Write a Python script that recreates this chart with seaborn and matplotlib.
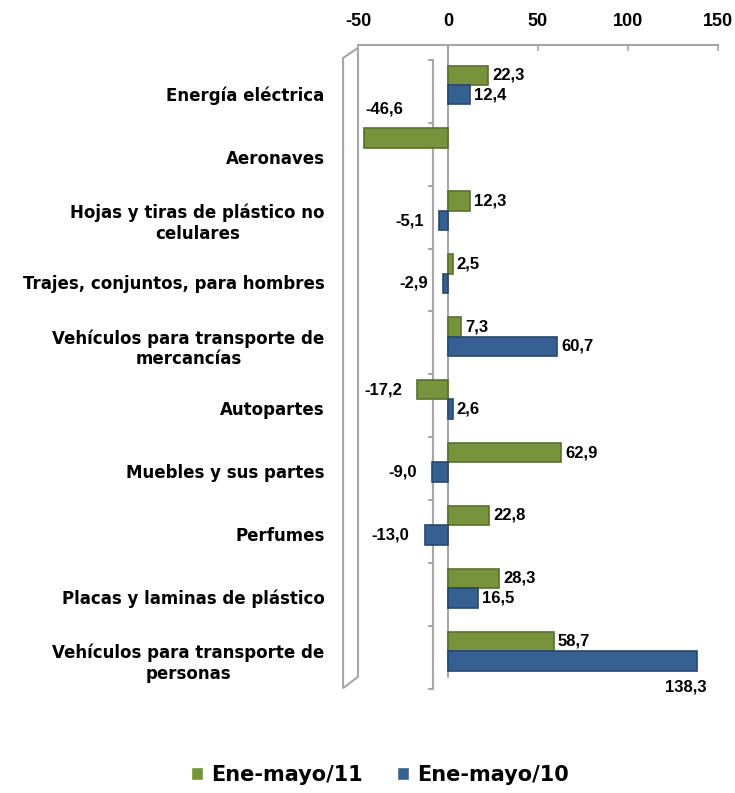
import numpy as np
import pandas as pd
import seaborn as sns
import matplotlib.pyplot as plt
from matplotlib.patches import Polygon, Patch


categorias = [
    "Energía eléctrica",
    "Aeronaves",
    "Hojas y tiras de plástico no\ncelulares",
    "Trajes, conjuntos, para hombres",
    "Vehículos para transporte de\nmercancías",
    "Autopartes",
    "Muebles y sus partes",
    "Perfumes",
    "Placas y laminas de plástico",
    "Vehículos para transporte de\npersonas",
]
ene_mayo_11 = [22.3, -46.6, 12.3, 2.5, 7.3, -17.2, 62.9, 22.8, 28.3, 58.7]
ene_mayo_10 = [12.4, np.nan, -5.1, -2.9, 60.7, 2.6, -9.0, -13.0, 16.5, 138.3]
series = ["Ene-mayo/11", "Ene-mayo/10"]
colores = ["#77933C", "#376092"]
bordes = ["#5A7030", "#28476D"]
ticks_x = [-50, 0, 50, 100, 150]

df = pd.DataFrame({
    "cat": categorias * 2,
    "serie": [series[0]] * len(categorias) + [series[1]] * len(categorias),
    "valor": ene_mayo_11 + ene_mayo_10,
}).dropna()

sns.set_theme(style="white")
plt.rcParams["font.family"] = ["DejaVu Sans"]
plt.rcParams["text.color"] = "black"
num_font = dict(family="Liberation Sans", weight="bold")
gris = "#A6A6A6"

fig = plt.figure(figsize=(7.35, 7.93), dpi=100)
ax = fig.add_axes([358 / 735, 1 - 690 / 793, 360 / 735, 645 / 793])

sns.barplot(data=df, x="valor", y="cat", hue="serie", order=categorias,
            hue_order=series, palette=colores, saturation=1, orient="h",
            width=0.62, errorbar=None, legend=False, ax=ax, zorder=3)
for cont, b in zip(ax.containers, bordes):
    for p in cont:
        p.set_edgecolor(b)
        p.set_linewidth(1.2)

ax.set_xlim(-50, 150)
ax.set_ylim(9.62, -0.636)
ax.set_xlabel("")
ax.set_ylabel("")

# eje superior
ax.xaxis.tick_top()
ax.set_xticks(ticks_x)
ax.set_xticklabels([str(t) for t in ticks_x], fontsize=13, color="black", **num_font)
ax.tick_params(axis="x", direction="in", length=4, color=gris, width=1.2, pad=11)
for s in ["left", "right", "bottom"]:
    ax.spines[s].set_visible(False)
ax.spines["top"].set_color(gris)
ax.spines["top"].set_linewidth(1.5)

# categorias
ax.set_yticks(np.arange(len(categorias)) + 0.14, categorias)
ax.tick_params(axis="y", length=0, pad=24)
for lbl in ax.get_yticklabels():
    lbl.set_fontsize(12)
    lbl.set_fontweight("bold")
    lbl.set_multialignment("center")
    lbl.set_color("black")

# lineas de fondo
ax.axvline(0, ymin=0.02, ymax=1, color=gris, lw=1.5, zorder=1)
ax.plot([-8.3, -8.3], [-0.4, 9.6], color=gris, lw=1.5, zorder=1)
for k in range(len(categorias) + 1):
    ax.plot([-10.5, -8.3], [k - 0.4, k - 0.4], color=gris, lw=1.5, zorder=1)
ax.add_patch(Polygon([(-58.3, -0.43), (-50, -0.59), (-50, 9.41), (-58.3, 9.59)],
                     closed=True, fill=False, edgecolor=gris, lw=1.5, clip_on=False))


def etiqueta(v):
    return f"{v:.1f}".replace(".", ",")


for vals, dy in zip([ene_mayo_11, ene_mayo_10], [-0.155, 0.155]):
    for k, v in enumerate(vals):
        if np.isnan(v):
            continue
        y = k + dy
        if categorias[k] == "Aeronaves":
            off, ha = (1, 21), "left"
        elif v == max(ene_mayo_10):
            off, ha = (7, -19), "right"
        elif v >= 0:
            off, ha = (3, 0), "left"
        else:
            off, ha = (-11, 0), "right"
        ax.annotate(etiqueta(v), (v, y), xytext=off, textcoords="offset points",
                    ha=ha, va="center", fontsize=12, color="black", **num_font)

handles = [Patch(facecolor=c) for c in colores]
leg = fig.legend(handles, series, loc="center", bbox_to_anchor=(0.517, 0.023), ncol=2,
                 frameon=False, prop=dict(weight="bold", size=15),
                 handlelength=0.6, handleheight=0.6, handletextpad=0.4, columnspacing=1.6)
for t in leg.get_texts():
    t.set_color("black")

fig.savefig("out.png", dpi=100)
